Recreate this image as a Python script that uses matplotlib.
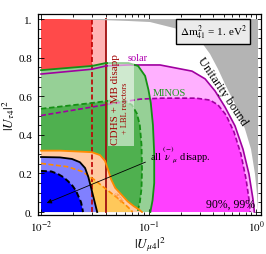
import numpy as np
import matplotlib
matplotlib.use('Agg')
import matplotlib.pyplot as plt
from matplotlib.patches import Rectangle
from matplotlib.ticker import LogLocator, NullFormatter

plt.rcParams['font.family'] = ['Liberation Serif', 'DejaVu Serif']
plt.rcParams['mathtext.fontset'] = 'stix'

# ---------------- data ----------------
# unitarity bound (grey region lies above/right of this curve)
unit_x = [0.015, 0.0246, 0.0354, 0.0645, 0.1033, 0.1336, 0.2049, 0.2594, 0.3146,
          0.3734, 0.4431, 0.5148, 0.6378, 0.7903, 0.8985, 0.9788, 1.0216, 1.0438]
unit_y = [1.0, 0.995, 0.995, 0.990, 0.9845, 0.969, 0.943, 0.912, 0.876,
          0.819, 0.741, 0.663, 0.560, 0.430, 0.326, 0.197, 0.093, 0.0]

# solar 99% (solid) and 90% (dashed)
solar99_x = [0.01, 0.0298, 0.0402, 0.0645, 0.128, 0.254, 0.336, 0.416, 0.515,
             0.638, 0.756, 0.86, 0.937, 0.96, 0.965]
solar99_y = [0.715, 0.74, 0.757, 0.762, 0.762, 0.73, 0.69, 0.627, 0.544,
             0.446, 0.326, 0.197, 0.067, 0.015, 0.0]
solar90_x = [0.01, 0.0298, 0.044, 0.0833, 0.133, 0.277, 0.373, 0.443, 0.526,
             0.624, 0.724, 0.808, 0.86, 0.88, 0.885]
solar90_y = [0.50, 0.544, 0.56, 0.585, 0.59, 0.59, 0.58, 0.555, 0.503,
             0.415, 0.30, 0.171, 0.067, 0.015, 0.0]

# MINOS 99% (solid) and 90% (dashed)
minos99_x = [0.01, 0.0298, 0.04, 0.065, 0.08, 0.093, 0.1, 0.105, 0.11, 0.113,
             0.113, 0.109, 0.104]
minos99_y = [0.735, 0.757, 0.772, 0.772, 0.757, 0.705, 0.632, 0.565, 0.45, 0.30,
             0.15, 0.06, 0.0]
minos90_x = [0.01, 0.0298, 0.045, 0.06, 0.07, 0.078, 0.083, 0.086, 0.087,
             0.086, 0.083, 0.079]
minos90_y = [0.535, 0.565, 0.578, 0.575, 0.555, 0.51, 0.45, 0.35, 0.22,
             0.12, 0.05, 0.0]

# atmospheric 99% (solid) and 90% (dashed)
atm99_x = [0.01, 0.015, 0.023, 0.0298, 0.0354, 0.0394, 0.042, 0.0448, 0.049,
           0.056, 0.064, 0.073, 0.082, 0.087]
atm99_y = [0.318, 0.318, 0.313, 0.31, 0.295, 0.265, 0.22, 0.17, 0.125,
           0.09, 0.055, 0.03, 0.012, 0.0]
atm90_x = [0.01, 0.0175, 0.0241, 0.0318, 0.0411, 0.0509, 0.0604, 0.0688, 0.071]
atm90_y = [0.252, 0.235, 0.21, 0.165, 0.115, 0.075, 0.04, 0.01, 0.0]

# all nu_mu disappearance 99% (solid) and 90% (dashed)
all99_x = [0.01, 0.015, 0.0194, 0.023, 0.0257, 0.0276, 0.0294, 0.0313, 0.0333]
all99_y = [0.285, 0.283, 0.275, 0.258, 0.228, 0.18, 0.12, 0.06, 0.0]
all90_x = [0.01, 0.0125, 0.0144, 0.0162, 0.0178, 0.0197, 0.0212, 0.0236, 0.0246]
all90_y = [0.213, 0.21, 0.197, 0.18, 0.16, 0.135, 0.109, 0.05, 0.0]

# CDHS + MB disapp + LBL reactors bounds on |U_mu4|^2
cdhs90 = 0.0298
cdhs99 = 0.0402

xticks = [0.01, 0.1, 1.0]
xtick_labels = [r'$10^{-2}$', r'$10^{-1}$', r'$10^{0}$']
yticks = [0.0, 0.2, 0.4, 0.6, 0.8, 1.0]
ytick_labels = ['0.', '0.2', '0.4', '0.6', '0.8', '1.']

# ---------------- figure ----------------
fig = plt.figure(figsize=(2.66, 2.55), dpi=100)
ax = fig.add_axes([0.1429, 0.1529, 0.8383, 0.7882])
ax.set_xscale('log')
ax.set_xlim(0.009376, 1.113)
ax.set_ylim(-0.0155, 1.026)


def fill_region(xs, ys, color, z=1):
    px = [xs[0]] + list(xs) + [xs[-1]]
    py = [0.0] + list(ys) + [0.0]
    ax.fill(px, py, color=color, lw=0, zorder=z)


# red bands
ax.fill_between([0.01, cdhs90], 0, 1.0, color='#ff4a4a', lw=0, zorder=1)
ax.fill_between([cdhs90, cdhs99], 0, 1.0, color='#ffb4b4', lw=0, zorder=1)

# solar
fill_region(solar99_x, solar99_y, '#ffb0ff')
fill_region(solar90_x, solar90_y, '#ff40ff')
# MINOS
fill_region(minos99_x, minos99_y, '#96d096')
fill_region(minos90_x, minos90_y, '#4fb04f')
# atmospheric
fill_region(atm99_x, atm99_y, '#ffcaa2')
fill_region(atm90_x, atm90_y, '#ffc85a')
# all disappearance
fill_region(all99_x, all99_y, '#8080ff')
fill_region(all90_x, all90_y, '#0000ff')

# contour lines
ax.plot([cdhs90, cdhs90], [0, 1.0], color='#c00000', lw=1.2, ls=(0, (3, 1.5)), zorder=2)
ax.plot([cdhs99, cdhs99], [0, 1.0], color='#a01010', lw=1.3, zorder=2)
ax.plot(solar99_x, solar99_y, color='#a000a0', lw=1.2, zorder=2)
ax.plot(solar90_x, solar90_y, color='#a000a0', lw=1.2, ls=(0, (3, 1.5)), zorder=2)
ax.plot(minos99_x, minos99_y, color='#159015', lw=1.3, zorder=2)
ax.plot(minos90_x, minos90_y, color='#159015', lw=1.3, ls=(0, (3, 1.5)), zorder=2)
ax.plot(atm99_x, atm99_y, color='#ff8a00', lw=1.3, zorder=2)
ax.plot(atm90_x, atm90_y, color='#ff8a00', lw=1.2, ls=(0, (3, 1.5)), zorder=2)
ax.plot(all99_x, all99_y, color='black', lw=1.3, zorder=2)
ax.plot(all90_x, all90_y, color='black', lw=1.4, ls=(0, (3, 1.5)), zorder=2)

# unitarity (grey)
gx = list(unit_x) + [unit_x[-1], unit_x[0]]
gy = list(unit_y) + [1.0, 1.0]
ax.fill(gx, gy, color='#b4b4b4', lw=0, zorder=3)

# translucent label box for CDHS text
ax.add_patch(Rectangle((0.042, 0.342), 0.0313, 0.513, facecolor='white',
                       alpha=0.55, lw=0, zorder=2.5))

# texts
ax.text(0.0488, 0.59, 'CDHS + MB disapp', rotation=90, color='#a00000',
        fontsize=8, ha='center', va='center', zorder=4)
ax.text(0.0604, 0.54, '+ LBL reactors', rotation=90, color='#a00000',
        fontsize=6, ha='center', va='center', zorder=4)
ax.text(0.0636, 0.787, 'solar', color='#b000b0', fontsize=7.5, zorder=4)
ax.text(0.1104, 0.606, 'MINOS', color='#1a9e1a', fontsize=7.5, zorder=4)
ax.text(0.052, 0.078, 'atm', color='#ff9a40', fontsize=6, rotation=-52,
        ha='center', va='center', zorder=4)
ax.text(0.483, 0.627, 'Unitarity bound', rotation=-56, fontsize=9,
        ha='center', va='center', zorder=4)
ax.text(0.98, 0.028, '90%, 99%', fontsize=8.5, ha='right', va='baseline', zorder=4)
ax.text(0.398, 0.935, r'$\Delta\mathrm{m}^{\,2}_{41}$ = 1. eV$^2$', fontsize=8,
        ha='center', va='center', zorder=5,
        bbox=dict(boxstyle='square,pad=0.3', facecolor='#ebebeb', edgecolor='black', lw=1))
ax.annotate('', xy=(0.0107, 0.041), xytext=(0.0989, 0.264),
            arrowprops=dict(arrowstyle='-|>', lw=0.6, color='black', mutation_scale=7),
            zorder=4)
ax.text(0.103, 0.268, r'all $\overset{(-)}{\nu}_{\mu}$ disapp.', fontsize=7.5,
        va='baseline', zorder=4)

# axes styling
ax.set_xticks(xticks, labels=xtick_labels)
ax.xaxis.set_minor_locator(LogLocator(base=10, subs=np.arange(2, 10)))
ax.xaxis.set_minor_formatter(NullFormatter())
ax.set_yticks(yticks, labels=ytick_labels)
ax.set_yticks([0.05, 0.1, 0.15, 0.25, 0.3, 0.35, 0.45, 0.5, 0.55, 0.65, 0.7, 0.75,
               0.85, 0.9, 0.95], minor=True)
ax.tick_params(which='both', direction='in', top=True, right=True, labelsize=8, width=0.6)
ax.tick_params(which='major', length=4)
ax.tick_params(which='minor', length=2.2)
ax.tick_params(axis='x', pad=3)
ax.tick_params(axis='y', pad=4)
for s in ax.spines.values():
    s.set_linewidth(0.9)
ax.set_xlabel(r'$|U_{\mu 4}|^2$', fontsize=9.5, labelpad=0)
ax.set_ylabel(r'$|U_{\tau 4}|^2$', fontsize=9.5, labelpad=1)

fig.savefig('out.png', dpi=100)
